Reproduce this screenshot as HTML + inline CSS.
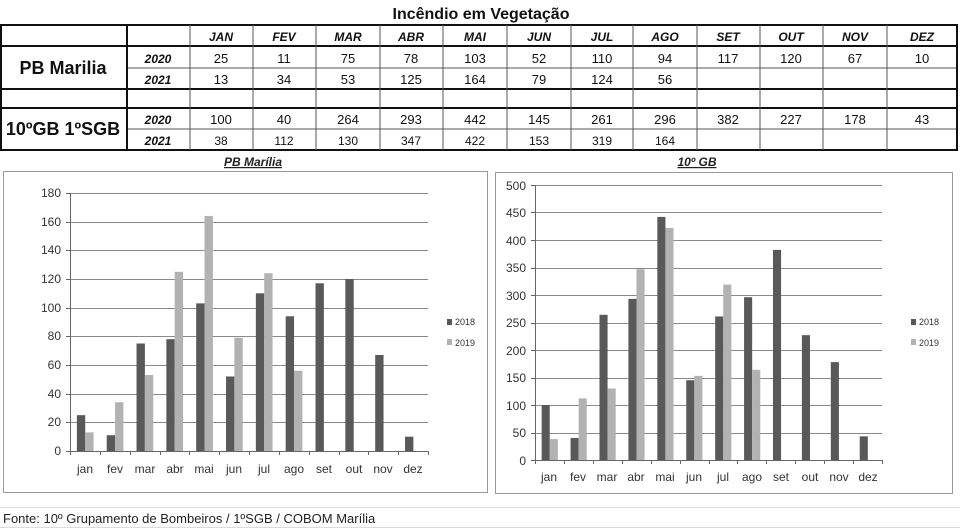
<!DOCTYPE html>
<html><head><meta charset="utf-8"><style>
html,body{margin:0;padding:0;background:#fff;}
svg{display:block;font-family:"Liberation Sans",sans-serif;}
.t{font-size:13px;text-anchor:middle;fill:#111}
.h{font-size:12px;font-weight:bold;font-style:italic;text-anchor:middle;fill:#111}
.ax{font-size:12px;fill:#333}
.lg{font-size:9px;fill:#333}
</style></head><body>
<svg id="s" width="960" height="528" viewBox="0 0 960 528" xmlns="http://www.w3.org/2000/svg">
<rect width="960" height="528" fill="#fff"/>
<g id="grid" stroke="#dcdcdc" stroke-width="1"></g>
<g id="tbl"></g>
<text x="481" y="19" font-size="16" font-weight="bold" text-anchor="middle" fill="#111">Incêndio em Vegetação</text>
<g class="h">
<text x="221" y="41">JAN</text><text x="284" y="41">FEV</text><text x="348" y="41">MAR</text><text x="411" y="41">ABR</text><text x="475" y="41">MAI</text><text x="539" y="41">JUN</text><text x="602" y="41">JUL</text><text x="665" y="41">AGO</text><text x="728" y="41">SET</text><text x="791" y="41">OUT</text><text x="855" y="41">NOV</text><text x="922" y="41">DEZ</text>
<text x="158" y="63">2020</text><text x="158" y="84">2021</text><text x="158" y="124">2020</text><text x="158" y="145">2021</text>
</g>
<text x="63" y="74" font-size="18" font-weight="bold" text-anchor="middle" fill="#111">PB Marilia</text>
<text x="63" y="135" font-size="18" font-weight="bold" text-anchor="middle" fill="#111">10ºGB 1ºSGB</text>
<g class="t">
<text x="221" y="63">25</text><text x="284" y="63">11</text><text x="348" y="63">75</text><text x="411" y="63">78</text><text x="475" y="63">103</text><text x="539" y="63">52</text><text x="602" y="63">110</text><text x="665" y="63">94</text><text x="728" y="63">117</text><text x="791" y="63">120</text><text x="855" y="63">67</text><text x="922" y="63">10</text>
<text x="221" y="84">13</text><text x="284" y="84">34</text><text x="348" y="84">53</text><text x="411" y="84">125</text><text x="475" y="84">164</text><text x="539" y="84">79</text><text x="602" y="84">124</text><text x="665" y="84">56</text>
<text x="221" y="124">100</text><text x="284" y="124">40</text><text x="348" y="124">264</text><text x="411" y="124">293</text><text x="475" y="124">442</text><text x="539" y="124">145</text><text x="602" y="124">261</text><text x="665" y="124">296</text><text x="728" y="124">382</text><text x="791" y="124">227</text><text x="855" y="124">178</text><text x="922" y="124">43</text>
</g>
<g class="t" font-size="12">
<text x="221" y="145" font-size="12">38</text><text x="284" y="145" font-size="12">112</text><text x="348" y="145" font-size="12">130</text><text x="411" y="145" font-size="12">347</text><text x="475" y="145" font-size="12">422</text><text x="539" y="145" font-size="12">153</text><text x="602" y="145" font-size="12">319</text><text x="665" y="145" font-size="12">164</text>
</g>
<text x="253" y="166" font-size="12" font-weight="bold" font-style="italic" text-anchor="middle" text-decoration="underline" fill="#222">PB Marília</text>
<text x="697" y="166" font-size="12" font-weight="bold" font-style="italic" text-anchor="middle" text-decoration="underline" fill="#222">10º GB</text>
<rect x="3.5" y="171.5" width="484" height="321" fill="#fff" stroke="#999"/>
<rect x="495.5" y="172.5" width="457" height="321" fill="#fff" stroke="#999"/>
<g id="c1"></g><g id="c2"></g>
<g class="ax" text-anchor="end">
<text x="61" y="455">0</text><text x="61" y="426">20</text><text x="61" y="398">40</text><text x="61" y="369">60</text><text x="61" y="340">80</text><text x="61" y="312">100</text><text x="61" y="283">120</text><text x="61" y="254">140</text><text x="61" y="226">160</text><text x="61" y="197">180</text>
<text x="526" y="465">0</text><text x="526" y="437">50</text><text x="526" y="410">100</text><text x="526" y="382">150</text><text x="526" y="355">200</text><text x="526" y="327">250</text><text x="526" y="300">300</text><text x="526" y="272">350</text><text x="526" y="245">400</text><text x="526" y="217">450</text><text x="526" y="190">500</text>
</g>
<g class="ax" text-anchor="middle">
<text x="85" y="473">jan</text><text x="115" y="473">fev</text><text x="145" y="473">mar</text><text x="175" y="473">abr</text><text x="204" y="473">mai</text><text x="234" y="473">jun</text><text x="264" y="473">jul</text><text x="294" y="473">ago</text><text x="324" y="473">set</text><text x="354" y="473">out</text><text x="383" y="473">nov</text><text x="413" y="473">dez</text>
<text x="549" y="481">jan</text><text x="578" y="481">fev</text><text x="607" y="481">mar</text><text x="636" y="481">abr</text><text x="665" y="481">mai</text><text x="694" y="481">jun</text><text x="723" y="481">jul</text><text x="752" y="481">ago</text><text x="781" y="481">set</text><text x="810" y="481">out</text><text x="839" y="481">nov</text><text x="868" y="481">dez</text>
</g>
<rect x="447" y="319" width="5" height="6" fill="#595959"/><text class="lg" x="455" y="325">2018</text>
<rect x="447" y="339" width="5" height="6" fill="#b2b2b2"/><text class="lg" x="455" y="346">2019</text>
<rect x="911" y="319" width="5" height="6" fill="#595959"/><text class="lg" x="919" y="325">2018</text>
<rect x="911" y="339" width="5" height="6" fill="#b2b2b2"/><text class="lg" x="919" y="346">2019</text>
<text x="3" y="523" font-size="13" fill="#222">Fonte: 10º Grupamento de Bombeiros / 1ºSGB / COBOM Marília</text>
</svg>
<script>
var NS="http://www.w3.org/2000/svg";
function el(p,n,a){var e=document.createElementNS(NS,n);for(var k in a)e.setAttribute(k,a[k]);p.appendChild(e);return e;}
var g=document.getElementById('grid');
[507,527].forEach(function(y){el(g,'line',{x1:0,y1:y+.5,x2:960,y2:y+.5});});
var t=document.getElementById('tbl');
var cols=[127,190,253,316,380,443,507,571,633,697,760,823,887,957];
// horizontal
[[25,2],[46,2],[68,1],[89,2],[108,2],[129,1],[150,2]].forEach(function(r){
 el(t,'line',{x1:r[1]==2?0:127,y1:r[0],x2:958,y2:r[0],stroke:r[1]==2?'#111':'#555','stroke-width':r[1]});});
el(t,'line',{x1:1,y1:25,x2:1,y2:150,stroke:'#111','stroke-width':2});
cols.forEach(function(x,i){
 el(t,'line',{x1:x,y1:25,x2:x,y2:150,stroke:(i==0||i==13)?'#111':'#555','stroke-width':(i==0||i==13)?2:1});});
function chart(id,x0,x1,y0,ytop,max,step,d1,d2){
 var c=document.getElementById(id),sc=(y0-ytop)/max,w=(x1-x0)/12;
 for(var v=step;v<=max;v+=step){var y=Math.round(y0-v*sc)+.5;el(c,'line',{x1:x0,y1:y,x2:x1,y2:y,stroke:'#8a8a8a'});}
 for(var i=0;i<12;i++){var bx=x0+w*i+w*0.23,bw=w*0.28;
  el(c,'rect',{x:bx,y:y0-d1[i]*sc,width:bw,height:d1[i]*sc,fill:'#595959'});
  if(d2[i])el(c,'rect',{x:bx+bw,y:y0-d2[i]*sc,width:bw,height:d2[i]*sc,fill:'#b2b2b2'});}
 el(c,'line',{x1:x0+.5,y1:ytop,x2:x0+.5,y2:y0+4,stroke:'#666'});
 el(c,'line',{x1:x0-4,y1:y0+.5,x2:x1,y2:y0+.5,stroke:'#666'});
 for(var i=0;i<=12;i++){var x=Math.round(x0+w*i)+.5;el(c,'line',{x1:x,y1:y0,x2:x,y2:y0+4,stroke:'#666'});}
 for(var v=0;v<=max;v+=step){var y=Math.round(y0-v*sc)+.5;el(c,'line',{x1:x0-4,y1:y,x2:x0,y2:y,stroke:'#666'});}
}
chart('c1',70,428,451,193,180,20,[25,11,75,78,103,52,110,94,117,120,67,10],[13,34,53,125,164,79,124,56,0,0,0,0]);
chart('c2',535,882,460,185,500,50,[100,40,264,293,442,145,261,296,382,227,178,43],[38,112,130,347,422,153,319,164,0,0,0,0]);
</script>
</body></html>
